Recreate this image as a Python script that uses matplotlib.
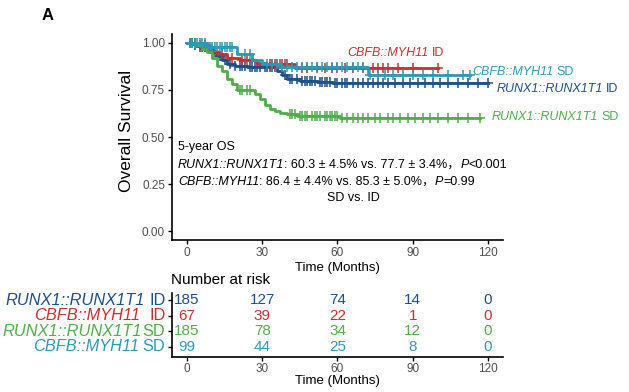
import numpy as np
import matplotlib
matplotlib.use("Agg")
import matplotlib.pyplot as plt
from matplotlib.transforms import offset_copy

plt.rcParams['font.family'] = ['Liberation Sans', 'Noto Sans CJK SC', 'DejaVu Sans']

# colours of the four groups
c_runx_id = "#1d4f88"
c_cbfb_id = "#c8302e"
c_runx_sd = "#4fad4a"
c_cbfb_sd = "#2c9ab5"

# Kaplan-Meier steps (months, survival)
runx_id_t = [0, 3, 5, 8, 10, 12, 14, 16, 19, 24, 36, 38, 40, 45, 52, 58]
runx_id_s = [1.0, 0.99, 0.98, 0.97, 0.95, 0.93, 0.91, 0.89, 0.88, 0.87, 0.85, 0.83, 0.81, 0.80, 0.79, 0.785]
runx_id_end = 120
runx_id_cens = [1, 2, 3, 5, 6, 7, 9, 11, 13, 15, 17, 19, 21, 22, 23, 25, 26, 27, 28, 29, 31, 32, 33, 34, 35,
                39, 41, 42, 44, 46, 47, 48, 49, 50, 51, 53, 54, 55, 56, 57, 59, 60, 62, 63, 64, 66, 68, 70,
                72, 74, 76, 78, 80, 83, 86, 89, 92, 95, 98, 101, 104, 108, 112, 116, 120]

cbfb_id_t = [0, 4, 9, 12, 16, 21, 28, 43]
cbfb_id_s = [1.0, 0.99, 0.96, 0.94, 0.92, 0.91, 0.89, 0.865]
cbfb_id_end = 100
cbfb_id_cens = [1, 2, 3, 5, 7, 14, 18, 22, 24, 33, 34, 35, 36, 37, 38, 39, 40, 46, 48, 52, 55, 58, 60,
                63, 66, 70, 74, 76, 78, 80, 84, 90, 100]

runx_sd_t = [0, 4, 6, 8, 10, 12, 14, 16, 18, 20, 27, 29, 31, 33, 35, 37, 40, 44, 61]
runx_sd_s = [1.0, 0.99, 0.97, 0.95, 0.92, 0.88, 0.85, 0.81, 0.78, 0.75, 0.73, 0.70, 0.67, 0.65, 0.64,
             0.63, 0.62, 0.61, 0.603]
runx_sd_end = 117
runx_sd_cens = [1, 2, 3, 21, 22, 24, 25, 41, 42, 43, 45, 46, 47, 48, 50, 51, 52, 53, 55, 56, 57, 58, 59,
                60, 62, 64, 66, 68, 70, 72, 75, 77, 80, 82, 85, 88, 91, 94, 97, 100, 104, 108, 112, 117]

cbfb_sd_t = [0, 8, 20, 26, 30, 37, 72]
cbfb_sd_s = [1.0, 0.98, 0.94, 0.91, 0.89, 0.87, 0.83]
cbfb_sd_end = 113
cbfb_sd_cens = [1, 2, 3, 4, 5, 6, 7, 9, 10, 11, 12, 13, 14, 15, 16, 17, 18, 23, 25, 32, 34, 36, 38, 40,
                42, 44, 46, 48, 50, 52, 54, 56, 58, 60, 62, 64, 66, 68, 70, 73, 76, 79, 82, 86, 90, 94,
                98, 104, 110, 113]

# number at risk
risk_times = [0, 30, 60, 90, 120]
risk_runx_id = [185, 127, 74, 14, 0]
risk_cbfb_id = [67, 39, 22, 1, 0]
risk_runx_sd = [185, 78, 34, 12, 0]
risk_cbfb_sd = [99, 44, 25, 8, 0]

gray = "#4d4d4d"

fig = plt.figure(figsize=(6.29, 3.92), dpi=100)
ax = fig.add_axes([0.2734, 0.3867, 0.5262, 0.5276])
axr = fig.add_axes([0.2734, 0.0893, 0.5262, 0.1633])
renderer = fig.canvas.get_renderer()


def rich(axis, x, y, parts, size, color, ha="left", transform=None, gap=0.8):
    # draws text segments (text, style) side by side
    tr = transform if transform is not None else axis.transData
    a = axis.text(0, 0, "x x", fontsize=size)
    b = axis.text(0, 0, "xx", fontsize=size)
    sp = a.get_window_extent(renderer).width - b.get_window_extent(renderer).width
    a.remove()
    b.remove()
    items = []
    for i, (s, st) in enumerate(parts):
        t = axis.text(x, y, s, fontsize=size, style=st, color=color, va="center",
                      ha="left", clip_on=False)
        w = t.get_window_extent(renderer).width
        g = gap * sp if i < len(parts) - 1 else 0
        items.append((t, w + g))
    total = sum(w for _, w in items)
    off = -total if ha == "right" else (-total / 2 if ha == "center" else 0)
    for t, w in items:
        t.set_transform(offset_copy(tr, fig=fig, x=off, y=0, units="dots"))
        off += w


groups = [
    (runx_id_t, runx_id_s, runx_id_end, runx_id_cens, c_runx_id),
    (cbfb_id_t, cbfb_id_s, cbfb_id_end, cbfb_id_cens, c_cbfb_id),
    (runx_sd_t, runx_sd_s, runx_sd_end, runx_sd_cens, c_runx_sd),
    (cbfb_sd_t, cbfb_sd_s, cbfb_sd_end, cbfb_sd_cens, c_cbfb_sd),
]
for t, s, end, cens, col in groups:
    ax.step(t + [end], s + [s[-1]], where="post", color=col, lw=2)
    idx = np.searchsorted(t, cens, side="right") - 1
    ax.plot(cens, np.array(s)[idx], "+", color=col, ms=6.5, mew=1.1)

ax.set_xlim(-6, 126)
ax.set_ylim(-0.05, 1.05)
ax.set_xticks([0, 30, 60, 90, 120])
ax.set_yticks([0, 0.25, 0.5, 0.75, 1.0])
ax.set_yticklabels(["0.00", "0.25", "0.50", "0.75", "1.00"])
ax.set_xlabel("Time (Months)", fontsize=9.5, labelpad=2)
ax.set_ylabel("Overall Survival", fontsize=12.5)
ax.yaxis.set_label_coords(-0.115, 0.53)
for a in (ax, axr):
    for side in ("top", "right"):
        a.spines[side].set_visible(False)
    for side in ("left", "bottom"):
        a.spines[side].set_linewidth(1.2)
    a.tick_params(length=3, width=1, labelsize=8.5, labelcolor=gray, pad=2)
axr.tick_params(axis="x", pad=1)

# curve labels
rich(ax, 102.4, 0.947, [("CBFB::MYH11", "italic"), ("ID", "normal")], 9, c_cbfb_id, ha="right")
rich(ax, 113.6, 0.846, [("CBFB::MYH11", "italic"), ("SD", "normal")], 9, c_cbfb_sd)
rich(ax, 123.6, 0.755, [("RUNX1::RUNX1T1", "italic"), ("ID", "normal")], 9, c_runx_id)
rich(ax, 121.6, 0.606, [("RUNX1::RUNX1T1", "italic"), ("SD", "normal")], 9, c_runx_sd)

# annotation
ax.text(-3.6, 0.447, "5-year OS", fontsize=9, va="center")
rich(ax, -3.6, 0.351, [("RUNX1::RUNX1T1", "italic"), (": 60.3 ± 4.5% vs. 77.7 ± 3.4%，", "normal"),
                       ("P", "italic"), ("<0.001", "normal")], 9, "black", gap=0)
rich(ax, -3.6, 0.26, [("CBFB::MYH11", "italic"), (": 86.4 ± 4.4% vs. 85.3 ± 5.0%，", "normal"),
                      ("P", "italic"), ("=0.99", "normal")], 9, "black", gap=0)
ax.text(66.4, 0.176, "SD vs. ID", fontsize=9, va="center", ha="center")

# risk table
risk_rows = [
    (risk_runx_id, 4, c_runx_id, [("RUNX1::RUNX1T1", "italic"), ("ID", "normal")], 0.9),
    (risk_cbfb_id, 3, c_cbfb_id, [("CBFB::MYH11", "italic"), ("ID", "normal")], 2.0),
    (risk_runx_sd, 2, c_runx_sd, [("RUNX1::RUNX1T1", "italic"), ("SD", "normal")], 0.15),
    (risk_cbfb_sd, 1, c_cbfb_sd, [("CBFB::MYH11", "italic"), ("SD", "normal")], 0.9),
]
axr.set_xlim(-6, 126)
axr.set_ylim(0.36, 4.45)
axr.set_xticks(risk_times)
axr.set_yticks([1, 2, 3, 4])
axr.set_yticklabels([])
axr.set_xlabel("Time (Months)", fontsize=9.5, labelpad=0)
ylab_tr = axr.get_yaxis_transform()
for counts, row, col, parts, g in risk_rows:
    for tm, n in zip(risk_times, counts):
        axr.text(tm, row, str(n), color=col, fontsize=11, ha="center", va="center")
    rich(axr, -0.02, row, parts, 11.8, col, ha="right", transform=ylab_tr, gap=g)

fig.text(171 / 629, 1 - 280 / 392, "Number at risk", fontsize=11, va="center")
fig.text(42 / 629, 1 - 15 / 392, "A", fontsize=12, weight="bold", va="center")

fig.savefig("out.png", dpi=100)
